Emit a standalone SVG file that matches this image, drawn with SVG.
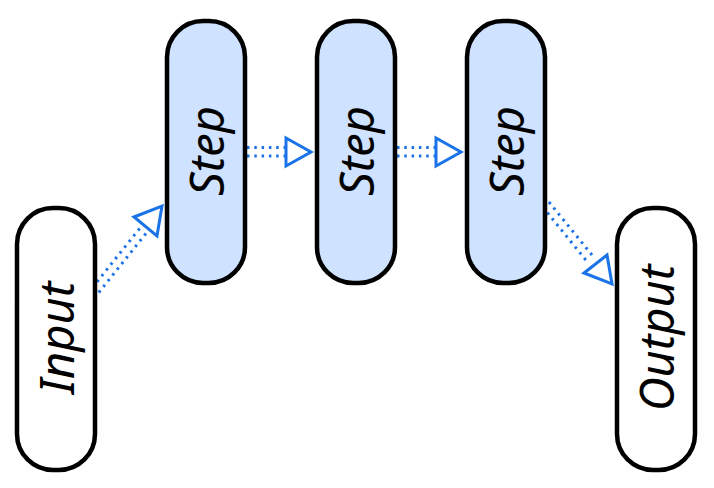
<svg xmlns="http://www.w3.org/2000/svg" width="714" height="488" viewBox="0 0 714 488">
<style>
.n{stroke:#000;stroke-width:4.5}
.w{fill:#fff}
.b{fill:#cfe2ff}
.t{font-family:"Noto Sans","Open Sans",sans-serif;font-style:italic;font-size:47px;fill:#000;text-anchor:middle;dominant-baseline:central}
.d{fill:none;stroke:#1a73e8;stroke-width:3;stroke-dasharray:2.5 4.8}
.a{fill:#fff;stroke:#1a73e8;stroke-width:3;stroke-linejoin:miter}
</style>
<rect width="714" height="488" fill="#fff"/>
<g id="connectors">
<g id="c1">
<path class="d" d="M92.5,287.5 L142,225.5 M98.8,292.5 L148.3,230.5"/>
<polygon class="a" points="134,217 162,206 157,236"/>
</g>
<g id="c2">
<path class="d" d="M247,147.5 L287,147.5 M247,156 L287,156"/>
<polygon class="a" points="286,138 286,166 311,152"/>
</g>
<g id="c3">
<path class="d" d="M397,147.5 L437,147.5 M397,156 L437,156"/>
<polygon class="a" points="436,138 436,166 461,152"/>
</g>
<g id="c4">
<path class="d" d="M549,202 L592,255 M542.8,207 L585.8,260"/>
<polygon class="a" points="584,273 607,255 612,284"/>
</g>
</g>
<g id="input">
<rect class="n w" x="17" y="208" width="78" height="262" rx="36"/>
<text class="t" transform="translate(56,338) rotate(-90)">Input</text>
</g>
<g id="step1">
<rect class="n b" x="167" y="21" width="78" height="262" rx="36"/>
<text class="t" transform="translate(206,151) rotate(-90)">Step</text>
</g>
<g id="step2">
<rect class="n b" x="317" y="21" width="78" height="262" rx="36"/>
<text class="t" transform="translate(356,151) rotate(-90)">Step</text>
</g>
<g id="step3">
<rect class="n b" x="467" y="21" width="78" height="262" rx="36"/>
<text class="t" transform="translate(506,151) rotate(-90)">Step</text>
</g>
<g id="output">
<rect class="n w" x="617" y="208" width="78" height="262" rx="36"/>
<text class="t" transform="translate(656,338) rotate(-90)">Output</text>
</g>
</svg>
